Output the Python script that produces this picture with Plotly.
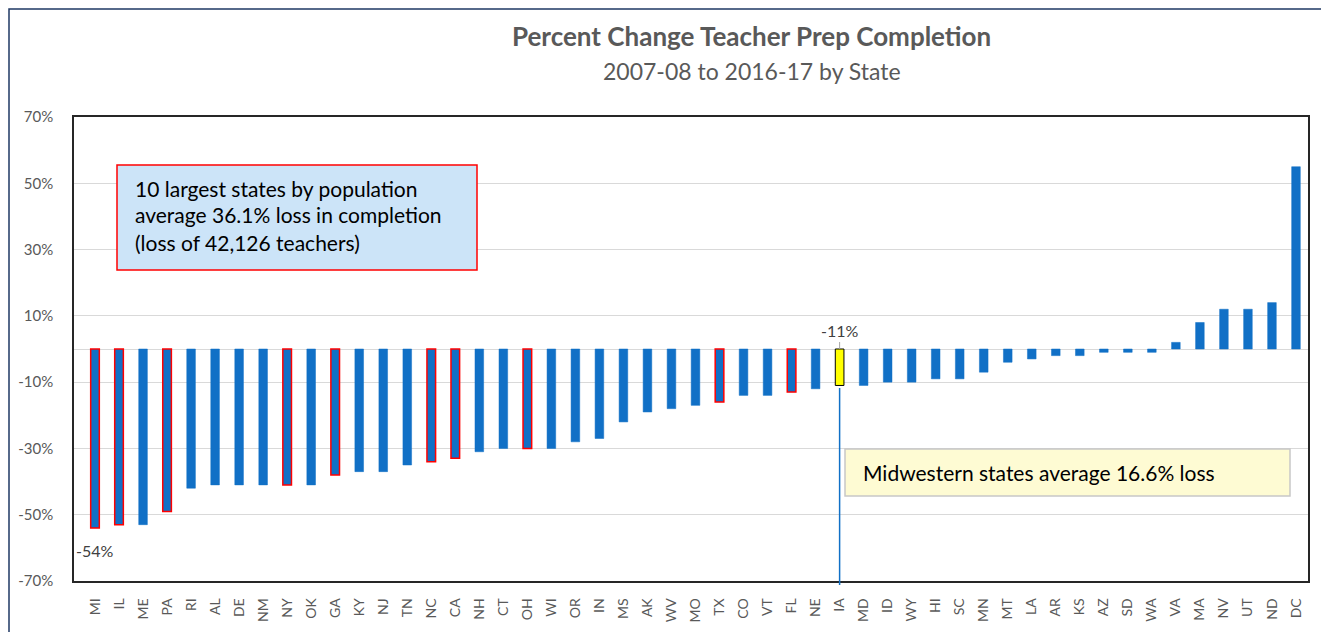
import plotly.graph_objects as go

# ---- data ----
states = ["MI", "IL", "ME", "PA", "RI", "AL", "DE", "NM", "NY", "OK", "GA", "KY", "NJ",
          "TN", "NC", "CA", "NH", "CT", "OH", "WI", "OR", "IN", "MS", "AK", "WV", "MO",
          "TX", "CO", "VT", "FL", "NE", "IA", "MD", "ID", "WY", "HI", "SC", "MN", "MT",
          "LA", "AR", "KS", "AZ", "SD", "WA", "VA", "MA", "NV", "UT", "ND", "DC"]
pct_change = [-54, -53, -53, -49, -42, -41, -41, -41, -41, -41, -38, -37, -37,
              -35, -34, -33, -31, -30, -30, -30, -28, -27, -22, -19, -18, -17,
              -16, -14, -14, -13, -12, -11, -11, -10, -10, -9, -9, -7, -4,
              -3, -2, -2, -1, -1, -1, 2, 8, 12, 12, 14, 55]
largest_states = ["CA", "TX", "FL", "NY", "PA", "IL", "OH", "GA", "NC", "MI"]
highlight_state = "IA"
y_ticks = [-70, -50, -30, -10, 10, 30, 50, 70]
y_tick_labels = [f"{v}%" for v in y_ticks]

BLUE = "#1170C6"
FONT = "Lato"
GRAY_TXT = "#595959"

fill_colors, line_colors, line_widths = [], [], []
for s in states:
    if s == highlight_state:
        fill_colors.append("#FFFF00"); line_colors.append("#000000"); line_widths.append(1)
    elif s in largest_states:
        fill_colors.append(BLUE); line_colors.append("#FF0000"); line_widths.append(1.5)
    else:
        fill_colors.append(BLUE); line_colors.append(BLUE); line_widths.append(0.5)

fig = go.Figure(go.Bar(
    x=states, y=pct_change,
    marker=dict(color=fill_colors, line=dict(color=line_colors, width=line_widths)),
    hoverinfo="x+y",
))

# page has an 8px body margin; target screen coords of plot area
OFF = 8
W, H = 1329 - OFF, 632 - OFF
L, R, T, B = 74, 1308, 117, 581          # screen pixels
def px(xp):
    return (xp - L) / (R - L)
def py(yp):
    return (B - yp) / (B - T)

shapes = [
    # outer border (top / left visible)
    dict(type="rect", xref="paper", yref="paper", x0=px(9), x1=px(1345), y0=py(650), y1=py(9),
         line=dict(color="#1F3864", width=1.5), fillcolor="rgba(0,0,0,0)", layer="below"),
    # 10 largest states box
    dict(type="rect", xref="paper", yref="paper", x0=px(117), x1=px(477), y0=py(270), y1=py(165),
         line=dict(color="#FF0000", width=1.5), fillcolor="#CCE4F8"),
    # Midwest box
    dict(type="rect", xref="paper", yref="paper", x0=px(845), x1=px(1290), y0=py(496), y1=py(449),
         line=dict(color="#C8C8C8", width=1.5), fillcolor="#FEFBD3"),
    # vertical line at IA
    dict(type="line", xref="x", yref="paper", x0=highlight_state, x1=highlight_state,
         y0=py(585), y1=py(388), line=dict(color=BLUE, width=1.5)),
    # leader line for -11% label
    dict(type="line", xref="x", yref="paper", x0=highlight_state, x1=highlight_state,
         y0=py(349), y1=py(342), line=dict(color="#A6A6A6", width=1)),
]

ia_val = pct_change[states.index(highlight_state)]
mi_val = pct_change[0]

def note(text, x, y, size, color, xanchor="left", xref="paper"):
    return dict(text=text, xref=xref, yref="paper", x=x, y=y, xanchor=xanchor, yanchor="middle",
                showarrow=False, font=dict(family=FONT, size=size, color=color))

annotations = [
    note("<b>Percent Change Teacher Prep Completion</b>", px(751), py(36), 26, GRAY_TXT, "center"),
    note("2007-08 to 2016-17 by State", px(752), py(71), 23, GRAY_TXT, "center"),
    note("10 largest states by population", px(133), py(188), 21, "#000000"),
    note("average 36.1% loss in completion", px(133), py(215), 21, "#000000"),
    note("(loss of 42,126 teachers)", px(133), py(242), 21, "#000000"),
    note("Midwestern states average 16.6% loss", px(861), py(472), 21, "#000000"),
    note(f"{ia_val}%", highlight_state, py(330), 16, "#404040", "center", "x"),
    note(f"{mi_val}%", states[0], py(550), 16, "#404040", "center", "x"),
]

fig.update_layout(
    width=W, height=H,
    margin=dict(l=L - OFF, r=W - (R - OFF), t=T - OFF, b=H - (B - OFF)),
    paper_bgcolor="white", plot_bgcolor="white",
    bargap=0.64,
    showlegend=False,
    shapes=shapes, annotations=annotations,
    font=dict(family=FONT, color=GRAY_TXT),
)
fig.update_xaxes(
    type="category", tickangle=-90, tickfont=dict(family=FONT, size=14, color=GRAY_TXT),
    showgrid=False, showline=True, linecolor="#262626", linewidth=1.5, mirror=True,
    ticks="", ticklabelstandoff=10, automargin=False,
)
fig.update_yaxes(
    range=[-70, 70], tickvals=y_ticks, ticktext=y_tick_labels,
    tickfont=dict(family=FONT, size=15, color=GRAY_TXT),
    showgrid=True, gridcolor="#D9D9D9", gridwidth=1,
    zeroline=True, zerolinecolor="#D9D9D9", zerolinewidth=1,
    showline=True, linecolor="#262626", linewidth=1.5, mirror=True,
    ticks="", ticklabelstandoff=16, automargin=False,
)

fig.write_html("out.html")
